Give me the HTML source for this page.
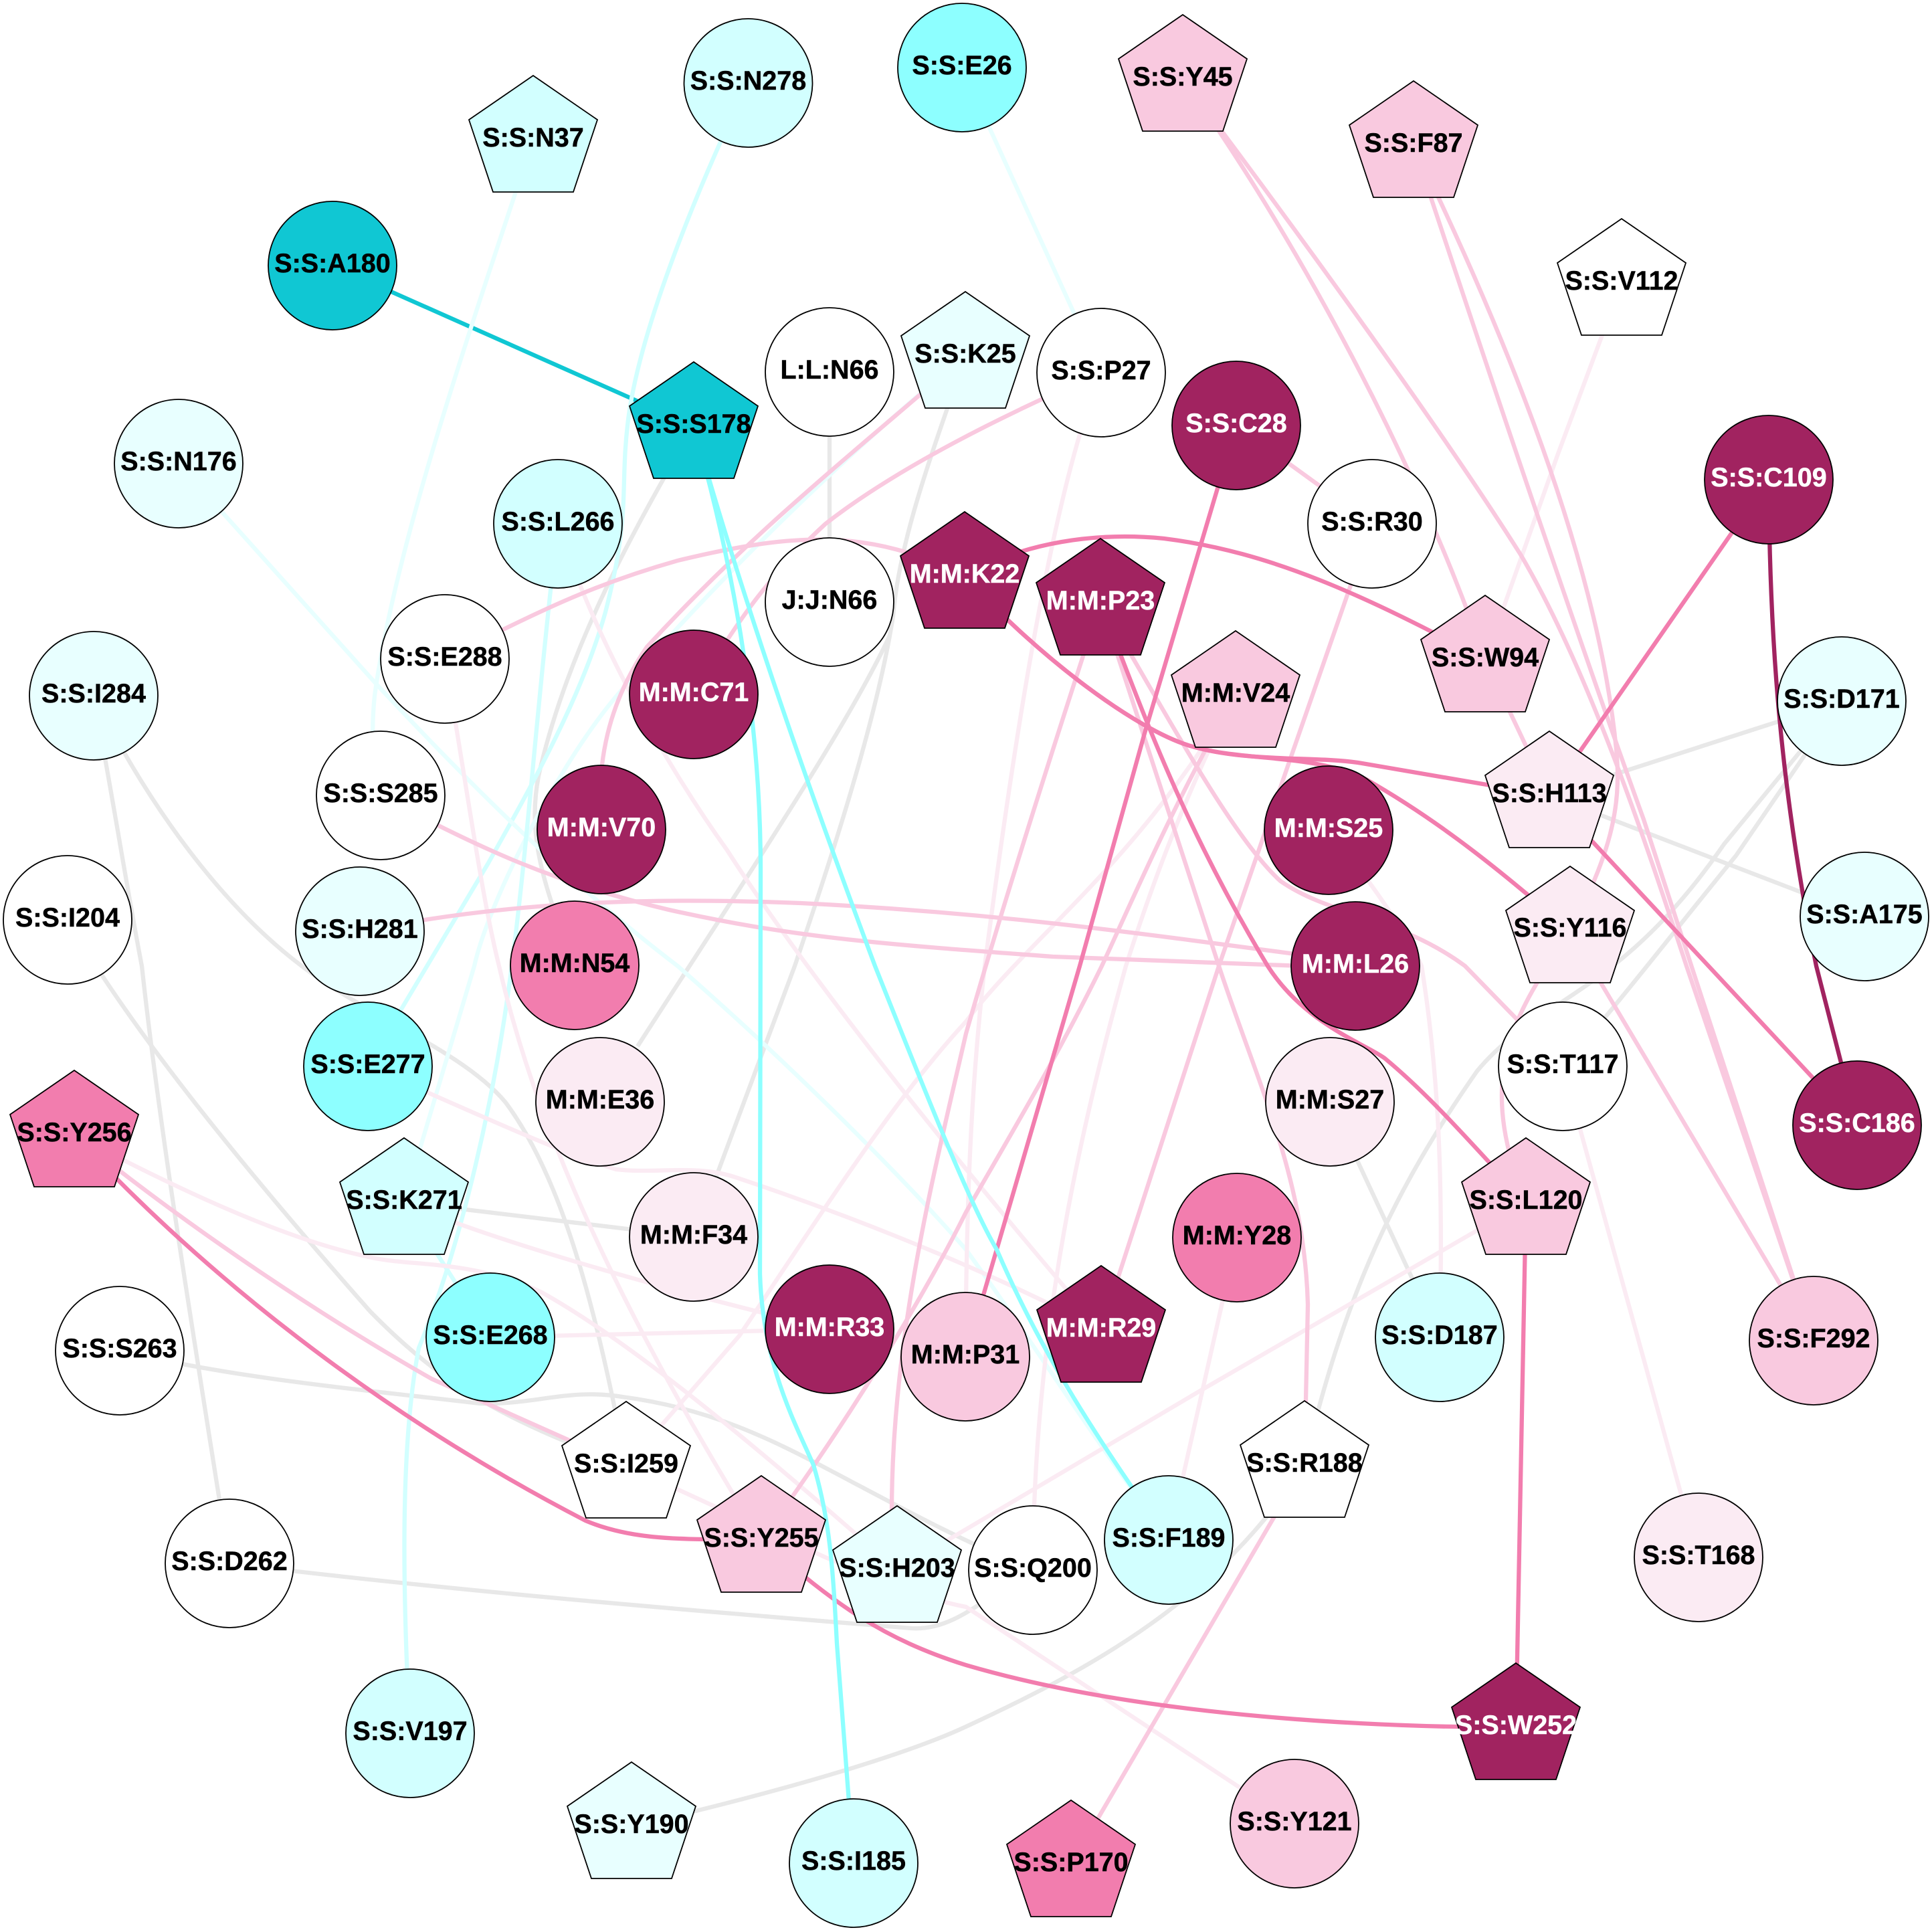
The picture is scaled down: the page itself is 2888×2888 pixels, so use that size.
<!DOCTYPE html>
<html><head><meta charset="utf-8"><style>
html,body{margin:0;padding:0;background:#fff}
svg{display:block}
path{fill:none;stroke-width:6.3}
.g{stroke:#e8e8e8}.c0{stroke:#e8ffff}.c1{stroke:#d2ffff}.c2{stroke:#8dffff}.t{stroke:#10c7d3}
.p0{stroke:#fbebf3}.p1{stroke:#f9c9df}.p2{stroke:#f27dae}.p3{stroke:#a12360}
circle,polygon{stroke:#000;stroke-width:1.8}
text{font-family:"Liberation Sans",sans-serif;font-weight:bold;font-size:39.5px;text-anchor:middle;fill:#000;stroke:#000;stroke-width:.5}
text.w{fill:#fff;stroke:#fff}
</style></head><body>
<svg xmlns="http://www.w3.org/2000/svg" width="2888" height="2888" viewBox="0 0 2888 2888">
<rect width="2888" height="2888" fill="#fff"/>
<g>
<path class="g" d="M1240 556L1240 900"/>
<path class="g" d="M1037 637C960 770 850 960 805 1160C790 1240 805 1310 860 1443"/>
<path class="g" d="M1443 532C1400 660 1345 800 1335 921C1310 1080 1240 1290 1188 1444L1037 1849"/>
<path class="g" d="M1330 950C1270 1080 1130 1290 953 1564"/>
<path class="g" d="M140 1040C170 1200 190 1330 212 1444C240 1700 290 2000 343 2337"/>
<path class="g" d="M140 1040C230 1220 340 1360 451 1444C550 1520 690 1570 755 1647C840 1760 890 1950 936 2191"/>
<path class="g" d="M101 1375C190 1530 350 1730 553 1960C680 2090 780 2130 936 2191"/>
<path class="g" d="M179 2019C350 2060 520 2075 718 2098C800 2100 850 2075 930 2088C1060 2105 1150 2150 1243 2199C1340 2250 1430 2300 1544 2347"/>
<path class="g" d="M343 2337C650 2375 1000 2405 1363 2434C1430 2438 1480 2380 1544 2347"/>
<path class="g" d="M604 1797L1037 1849"/>
<path class="g" d="M944 2730C1160 2680 1350 2625 1444 2581C1640 2490 1820 2390 1950 2190"/>
<path class="g" d="M1950 2190C2010 1930 2090 1770 2208 1601C2300 1490 2420 1490 2577 1262L2753 1048"/>
<path class="g" d="M2336 1594C2420 1500 2480 1420 2595 1279L2753 1048"/>
<path class="g" d="M2316 1189L2753 1048"/>
<path class="g" d="M2316 1189L2787 1370"/>
<path class="g" d="M1988 1647L2152 1999"/>
<path class="t" d="M497 397L1037 637"/>
<path class="c0" d="M797 209C700 500 590 820 560 1040C553 1110 560 1150 569 1189"/>
<path class="c1" d="M1118 124C1050 265 960 480 940 620C925 730 945 760 905 915C870 1040 800 1165 730 1290L549 1594"/>
<path class="c0" d="M267 693L562 1022C700 1170 850 1320 1013 1444C1180 1590 1350 1760 1444 1868C1540 2000 1620 2130 1747 2302"/>
<path class="c0" d="M1438 101L1646 557"/>
<path class="c0" d="M1443 532C1250 690 1060 880 921 1041C830 1150 730 1350 709 1444L604 1797"/>
<path class="c1" d="M834 783C800 1080 790 1250 765 1444C740 1640 690 1860 626 2015C600 2150 600 2350 613 2591"/>
<path class="c1" d="M604 1797L733 1999"/>
<path class="p0" d="M2424 423L2328 681L2220 986"/>
<path class="p0" d="M1646 557C1570 740 1510 1150 1472 1444C1450 1640 1445 1800 1443 2028"/>
<path class="p0" d="M1847 1039C1700 1290 1540 1400 1444 1527C1340 1640 1250 1780 1105 1997L936 2191"/>
<path class="p0" d="M1847 1039C1760 1210 1710 1360 1683 1444C1620 1670 1545 1980 1544 2347"/>
<path class="p0" d="M1986 1241C2060 1330 2110 1410 2125 1444C2150 1600 2158 1760 2152 1999"/>
<path class="p0" d="M1849 1850L1747 2302"/>
<path class="p0" d="M2281 1797L1794 2079L1341 2347"/>
<path class="p0" d="M111 1696C260 1775 420 1850 543 1877C610 1895 700 1880 810 1932C950 2010 1140 2170 1341 2347"/>
<path class="p0" d="M733 1999L1240 1987"/>
<path class="p0" d="M604 1797C700 1840 920 1910 1240 1987"/>
<path class="p0" d="M550 1594C680 1650 840 1725 921 1748C980 1755 1040 1740 1100 1760C1220 1800 1440 1880 1646 1988"/>
<path class="p0" d="M834 783C890 960 1000 1150 1087 1271C1170 1400 1330 1620 1646 1988"/>
<path class="p0" d="M665 985C700 1190 720 1340 746 1444C800 1680 920 1950 1138 2302"/>
<path class="p0" d="M936 2191L1234 2328C1310 2360 1380 2390 1444 2402L1935 2726"/>
<path class="p0" d="M2336 1594L2539 2328"/>
<path class="p1" d="M1443 861C1300 790 1190 795 1013 838C900 870 820 905 665 985"/>
<path class="p1" d="M1443 532C1260 690 1120 800 967 967C910 1050 890 1140 899 1240"/>
<path class="p1" d="M1646 557C1500 620 1340 700 1234 783C1150 860 1100 930 1037 1038"/>
<path class="p1" d="M1848 636L2051 783"/>
<path class="p1" d="M2051 783L1923 1151L1822 1444L1646 1988"/>
<path class="p1" d="M1768 118C1900 300 2100 640 2220 986"/>
<path class="p1" d="M1768 118C1950 360 2160 650 2273 829C2380 1010 2470 1290 2521 1444L2711 2004"/>
<path class="p1" d="M2113 217C2200 480 2350 930 2457 1225L2711 2004"/>
<path class="p1" d="M2113 217C2260 520 2390 850 2416 1120C2425 1210 2405 1280 2347 1392"/>
<path class="p1" d="M2220 986L2316 1189"/>
<path class="p1" d="M1645 901C1570 1130 1500 1350 1444 1545C1390 1780 1320 2050 1335 2347"/>
<path class="p1" d="M1645 901L1822 1444C1880 1620 1950 1760 1955 1950L1950 2190"/>
<path class="p1" d="M1645 901C1740 1060 1840 1250 1914 1317C1990 1370 2090 1370 2190 1444L2336 1594"/>
<path class="p1" d="M2347 1392C2270 1510 2200 1600 2281 1797"/>
<path class="p1" d="M2347 1392L2711 2004"/>
<path class="p1" d="M1847 1039C1750 1210 1700 1330 1647 1444C1580 1580 1520 1680 1444 1812C1400 1900 1300 2080 1138 2302"/>
<path class="p1" d="M1950 2190L1601 2787"/>
<path class="p1" d="M111 1696C250 1810 450 1950 645 2061L936 2191"/>
<path class="p1" d="M569 1189C720 1270 830 1320 1000 1360C1180 1400 1300 1410 1574 1430L2026 1447"/>
<path class="p1" d="M538 1392C750 1350 950 1340 1197 1350C1500 1365 1700 1395 2026 1438"/>
<path class="p2" d="M1848 636L1711 1096L1614 1444L1443 2028"/>
<path class="p2" d="M2644 717L2316 1189"/>
<path class="p2" d="M2316 1189L2776 1682"/>
<path class="p2" d="M1442 861C1530 810 1640 795 1740 805C1900 825 2040 890 2220 986"/>
<path class="p2" d="M1442 861C1560 990 1700 1090 1776 1114C1860 1140 1960 1130 2030 1140L2316 1189"/>
<path class="p2" d="M1442 861C1560 990 1700 1090 1776 1114C1860 1140 1960 1125 2042 1165C2130 1215 2220 1280 2347 1392"/>
<path class="p2" d="M1645 901C1700 1040 1760 1220 1895 1444C1950 1530 2040 1560 2070 1582C2140 1640 2200 1710 2281 1797"/>
<path class="p2" d="M2281 1797L2266 2582"/>
<path class="p2" d="M2266 2582C2080 2582 1720 2570 1444 2489C1320 2450 1250 2400 1138 2302"/>
<path class="p2" d="M111 1696C300 1900 560 2110 875 2273C950 2305 1030 2300 1138 2302"/>
<path class="p3" d="M2644 717C2645 950 2660 1170 2715 1444L2776 1682"/>
<path class="c2" d="M1037 637C1090 820 1137 1060 1137 1300L1136 1904C1140 2040 1190 2130 1216 2190C1240 2270 1245 2340 1251 2457L1276 2785"/>
<path class="c2" d="M1037 637C1100 860 1190 1130 1308 1444C1390 1650 1450 1800 1490 1868C1560 2030 1640 2150 1747 2302"/>
</g>
<g>
<circle cx="1118.5" cy="124" r="96" fill="#d2ffff"/>
<polygon transform="translate(797 209)" points="0,-96 96,-30 60,78 -60,78 -96,-30" fill="#d2ffff"/>
<circle cx="1438" cy="101" r="96" fill="#8dffff"/>
<polygon transform="translate(1768 118)" points="0,-96 96,-30 60,78 -60,78 -96,-30" fill="#f9c9df"/>
<polygon transform="translate(2113 217)" points="0,-96 96,-30 60,78 -60,78 -96,-30" fill="#f9c9df"/>
<polygon transform="translate(2424 423)" points="0,-96 96,-30 60,78 -60,78 -96,-30" fill="#fff"/>
<circle cx="497" cy="397" r="96" fill="#10c7d3"/>
<polygon transform="translate(1037 637)" points="0,-96 96,-30 60,78 -60,78 -96,-30" fill="#10c7d3"/>
<circle cx="1240" cy="556" r="96" fill="#fff"/>
<polygon transform="translate(1443 532)" points="0,-96 96,-30 60,78 -60,78 -96,-30" fill="#e8ffff"/>
<circle cx="1646" cy="557" r="96" fill="#fff"/>
<circle cx="1848" cy="636" r="96" fill="#a12360"/>
<circle cx="2644" cy="717" r="96" fill="#a12360"/>
<circle cx="267" cy="693" r="96" fill="#e8ffff"/>
<circle cx="834" cy="783" r="96" fill="#d2ffff"/>
<circle cx="2051" cy="783" r="96" fill="#fff"/>
<polygon transform="translate(1442 861)" points="0,-96 96,-30 60,78 -60,78 -96,-30" fill="#a12360"/>
<circle cx="1240" cy="900" r="96" fill="#fff"/>
<polygon transform="translate(1645 901)" points="0,-96 96,-30 60,78 -60,78 -96,-30" fill="#a12360"/>
<circle cx="665" cy="985" r="96" fill="#fff"/>
<polygon transform="translate(2220 986)" points="0,-96 96,-30 60,78 -60,78 -96,-30" fill="#f9c9df"/>
<circle cx="140" cy="1040" r="96" fill="#e8ffff"/>
<circle cx="1037" cy="1038" r="96" fill="#a12360"/>
<polygon transform="translate(1847 1039)" points="0,-96 96,-30 60,78 -60,78 -96,-30" fill="#f9c9df"/>
<circle cx="2753" cy="1048" r="96" fill="#e8ffff"/>
<circle cx="569" cy="1189" r="96" fill="#fff"/>
<polygon transform="translate(2316 1189)" points="0,-96 96,-30 60,78 -60,78 -96,-30" fill="#fbebf3"/>
<circle cx="899" cy="1240" r="96" fill="#a12360"/>
<circle cx="1986" cy="1241" r="96" fill="#a12360"/>
<circle cx="2787" cy="1370" r="96" fill="#e8ffff"/>
<circle cx="101" cy="1375" r="96" fill="#fff"/>
<circle cx="538" cy="1392" r="96" fill="#e8ffff"/>
<polygon transform="translate(2347 1391)" points="0,-96 96,-30 60,78 -60,78 -96,-30" fill="#fbebf3"/>
<circle cx="859" cy="1443" r="96" fill="#f27dae"/>
<circle cx="2026" cy="1444" r="96" fill="#a12360"/>
<circle cx="550" cy="1594" r="96" fill="#8dffff"/>
<circle cx="2336" cy="1594" r="96" fill="#fff"/>
<circle cx="897" cy="1647" r="96" fill="#fbebf3"/>
<circle cx="1988" cy="1647" r="96" fill="#fbebf3"/>
<circle cx="2776" cy="1682" r="96" fill="#a12360"/>
<polygon transform="translate(111 1696)" points="0,-96 96,-30 60,78 -60,78 -96,-30" fill="#f27dae"/>
<polygon transform="translate(604 1797)" points="0,-96 96,-30 60,78 -60,78 -96,-30" fill="#d2ffff"/>
<polygon transform="translate(2281 1797)" points="0,-96 96,-30 60,78 -60,78 -96,-30" fill="#f9c9df"/>
<circle cx="1037" cy="1849" r="96" fill="#fbebf3"/>
<circle cx="1849" cy="1850" r="96" fill="#f27dae"/>
<circle cx="1240" cy="1987" r="96" fill="#a12360"/>
<polygon transform="translate(1646 1988)" points="0,-96 96,-30 60,78 -60,78 -96,-30" fill="#a12360"/>
<circle cx="733" cy="1999" r="96" fill="#8dffff"/>
<circle cx="2152" cy="1999" r="96" fill="#d2ffff"/>
<circle cx="2711" cy="2004" r="96" fill="#f9c9df"/>
<circle cx="179" cy="2019" r="96" fill="#fff"/>
<circle cx="1443" cy="2028" r="96" fill="#f9c9df"/>
<polygon transform="translate(1950 2190)" points="0,-96 96,-30 60,78 -60,78 -96,-30" fill="#fff"/>
<polygon transform="translate(936 2191)" points="0,-96 96,-30 60,78 -60,78 -96,-30" fill="#fff"/>
<polygon transform="translate(1138 2302)" points="0,-96 96,-30 60,78 -60,78 -96,-30" fill="#f9c9df"/>
<circle cx="1747" cy="2302" r="96" fill="#d2ffff"/>
<circle cx="2539" cy="2328" r="96" fill="#fbebf3"/>
<circle cx="343" cy="2337" r="96" fill="#fff"/>
<circle cx="1544" cy="2347" r="96" fill="#fff"/>
<polygon transform="translate(1341 2347)" points="0,-96 96,-30 60,78 -60,78 -96,-30" fill="#e8ffff"/>
<polygon transform="translate(2266 2582)" points="0,-96 96,-30 60,78 -60,78 -96,-30" fill="#a12360"/>
<circle cx="613" cy="2591" r="96" fill="#d2ffff"/>
<circle cx="1935" cy="2726" r="96" fill="#f9c9df"/>
<polygon transform="translate(944 2730)" points="0,-96 96,-30 60,78 -60,78 -96,-30" fill="#e8ffff"/>
<circle cx="1276" cy="2785" r="96" fill="#d2ffff"/>
<polygon transform="translate(1601 2787)" points="0,-96 96,-30 60,78 -60,78 -96,-30" fill="#f27dae"/>
</g>
<g>
<text x="1118.5" y="134">S:S:N278</text>
<text x="797" y="219">S:S:N37</text>
<text x="1438" y="111">S:S:E26</text>
<text x="1768" y="128">S:S:Y45</text>
<text x="2113" y="227">S:S:F87</text>
<text x="2424" y="433">S:S:V112</text>
<text x="497" y="407">S:S:A180</text>
<text x="1037" y="647">S:S:S178</text>
<text x="1240" y="566">L:L:N66</text>
<text x="1443" y="542">S:S:K25</text>
<text x="1646" y="567">S:S:P27</text>
<text class="w" x="1848" y="646">S:S:C28</text>
<text class="w" x="2644" y="727">S:S:C109</text>
<text x="267" y="703">S:S:N176</text>
<text x="834" y="793">S:S:L266</text>
<text x="2051" y="793">S:S:R30</text>
<text class="w" x="1442" y="871">M:M:K22</text>
<text x="1240" y="910">J:J:N66</text>
<text class="w" x="1645" y="911">M:M:P23</text>
<text x="665" y="995">S:S:E288</text>
<text x="2220" y="996">S:S:W94</text>
<text x="140" y="1050">S:S:I284</text>
<text class="w" x="1037" y="1048">M:M:C71</text>
<text x="1847" y="1049">M:M:V24</text>
<text x="2753" y="1058">S:S:D171</text>
<text x="569" y="1199">S:S:S285</text>
<text x="2316" y="1199">S:S:H113</text>
<text class="w" x="899" y="1250">M:M:V70</text>
<text class="w" x="1986" y="1251">M:M:S25</text>
<text x="2787" y="1380">S:S:A175</text>
<text x="101" y="1385">S:S:I204</text>
<text x="538" y="1402">S:S:H281</text>
<text x="2347" y="1400">S:S:Y116</text>
<text x="859" y="1453">M:M:N54</text>
<text class="w" x="2026" y="1454">M:M:L26</text>
<text x="550" y="1604">S:S:E277</text>
<text x="2336" y="1604">S:S:T117</text>
<text x="897" y="1657">M:M:E36</text>
<text x="1988" y="1657">M:M:S27</text>
<text class="w" x="2776" y="1692">S:S:C186</text>
<text x="111" y="1706">S:S:Y256</text>
<text x="604" y="1807">S:S:K271</text>
<text x="2281" y="1807">S:S:L120</text>
<text x="1037" y="1859">M:M:F34</text>
<text x="1849" y="1860">M:M:Y28</text>
<text class="w" x="1240" y="1997">M:M:R33</text>
<text class="w" x="1646" y="1998">M:M:R29</text>
<text x="733" y="2009">S:S:E268</text>
<text x="2152" y="2009">S:S:D187</text>
<text x="2711" y="2014">S:S:F292</text>
<text x="179" y="2029">S:S:S263</text>
<text x="1443" y="2038">M:M:P31</text>
<text x="1950" y="2200">S:S:R188</text>
<text x="936" y="2201">S:S:I259</text>
<text x="1138" y="2312">S:S:Y255</text>
<text x="1747" y="2312">S:S:F189</text>
<text x="2539" y="2338">S:S:T168</text>
<text x="343" y="2347">S:S:D262</text>
<text x="1544" y="2357">S:S:Q200</text>
<text x="1341" y="2357">S:S:H203</text>
<text class="w" x="2266" y="2592">S:S:W252</text>
<text x="613" y="2601">S:S:V197</text>
<text x="1935" y="2736">S:S:Y121</text>
<text x="944" y="2740">S:S:Y190</text>
<text x="1276" y="2795">S:S:I185</text>
<text x="1601" y="2797">S:S:P170</text>
</g>
</svg>
</body></html>
